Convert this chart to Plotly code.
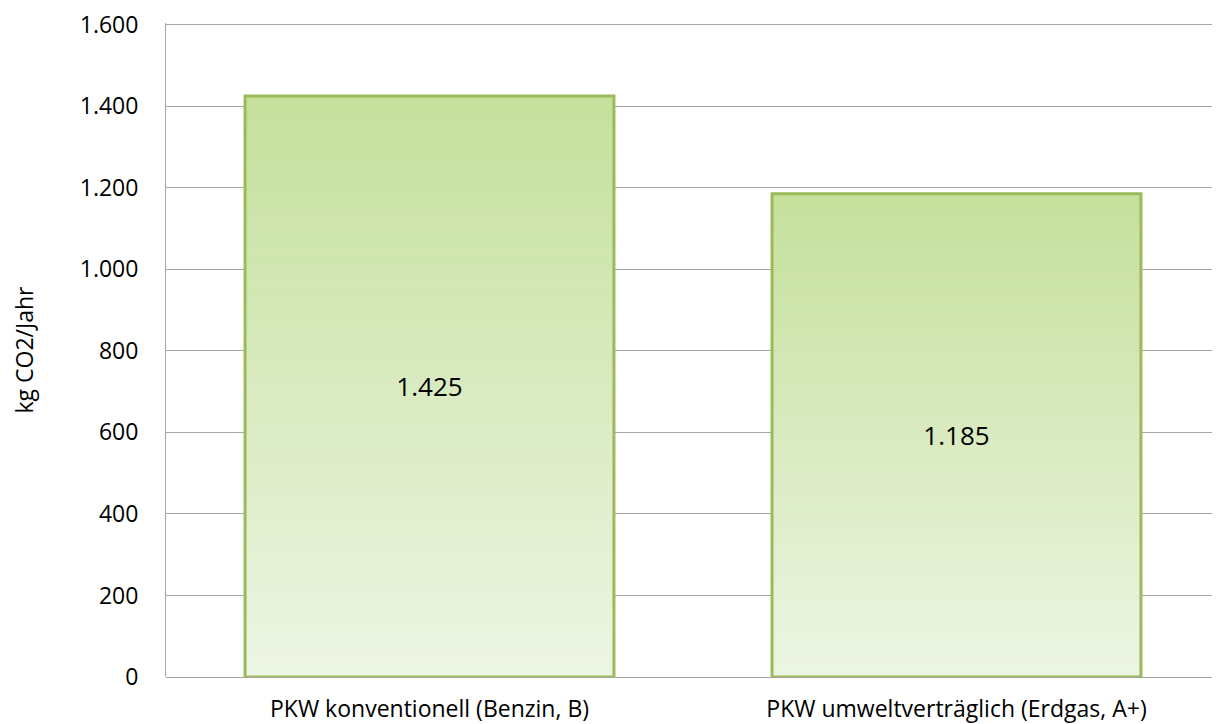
import plotly.graph_objects as go

categories = ["PKW konventionell (Benzin, B)", "PKW umweltverträglich (Erdgas, A+)"]
values = [1425, 1185]
y_ticks = [0, 200, 400, 600, 800, 1000, 1200, 1400, 1600]
y_title = "kg CO2/Jahr"

FONT = "Open Sans"
top_rgb = (197, 224, 156)
bot_rgb = (237, 245, 228)
N = 120

fig = go.Figure()
for i in range(N):
    t = (i + 0.5) / N
    c = "rgb(%d,%d,%d)" % tuple(round(bot_rgb[k] + (top_rgb[k] - bot_rgb[k]) * t) for k in range(3))
    fig.add_trace(go.Bar(
        x=categories,
        y=[v / N for v in values],
        base=[v * i / N for v in values],
        marker=dict(color=c, line=dict(width=1, color=c)),
        hoverinfo="skip", showlegend=False,
    ))

labels = ["{:,}".format(v).replace(",", ".") for v in values]
fig.add_trace(go.Bar(
    x=categories, y=values,
    marker=dict(color="rgba(0,0,0,0)", line=dict(color="#9bbb59", width=3)),
    text=labels, textposition="inside", insidetextanchor="middle",
    textfont=dict(family=FONT, size=26, color="#000000"),
    showlegend=False,
))

fig.update_layout(
    width=1212, height=716,
    barmode="overlay", bargap=0.300,
    separators=",.",
    paper_bgcolor="white", plot_bgcolor="white",
    margin=dict(l=157, r=0, t=13, b=46),
    font=dict(family=FONT, size=22, color="#000000"),
    xaxis=dict(showgrid=False, showline=False, ticks="", tickfont=dict(size=23),
               ticklabelstandoff=16),
    yaxis=dict(range=[0, 1604], tickvals=y_ticks, tickformat=",d",
               showgrid=True, gridcolor="#a6a6a6", gridwidth=1,
               showline=True, linecolor="#a6a6a6", linewidth=1,
               zeroline=True, zerolinecolor="#a6a6a6", zerolinewidth=1,
               ticks="", ticklabelstandoff=22, tickfont=dict(size=23),
               ticklabeloverflow="allow",
               title=dict(text=y_title, font=dict(size=23), standoff=56)),
)

fig.write_html("out.html")
